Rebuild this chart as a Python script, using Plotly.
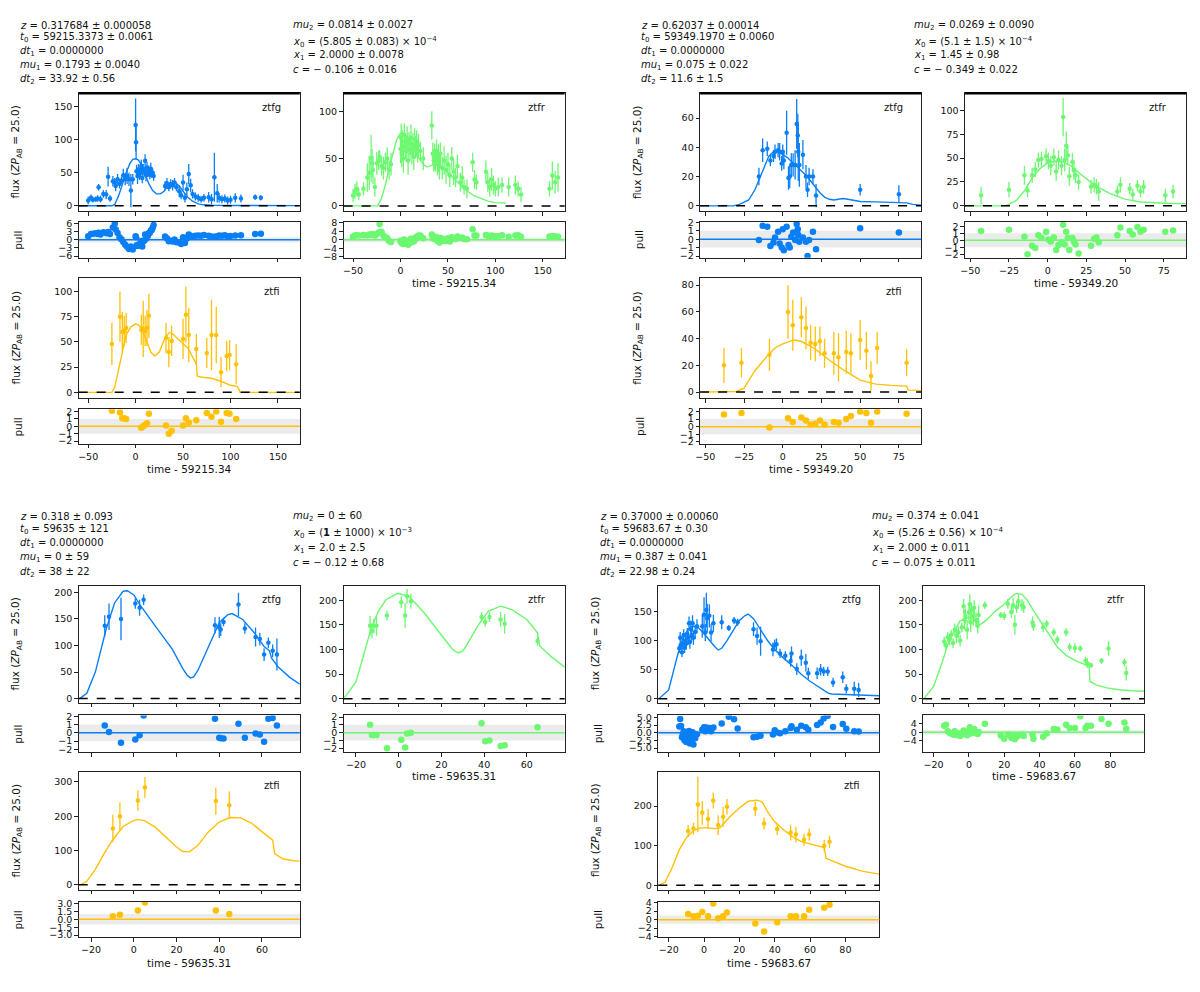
import plotly.graph_objects as go

W, H = 1200, 992

# ---------------- panel 1 : t0 = 59215.34 ----------------
P1_LEFT = ["<i>z</i> = 0.317684 ± 0.000058", "<i>t</i><sub>0</sub> = 59215.3373 ± 0.0061",
           "<i>dt</i><sub>1</sub> = 0.0000000", "<i>mu</i><sub>1</sub> = 0.1793 ± 0.0040",
           "<i>dt</i><sub>2</sub> = 33.92 ± 0.56"]
P1_RIGHT = ["<i>mu</i><sub>2</sub> = 0.0814 ± 0.0027", "<i>x</i><sub>0</sub> = (5.805 ± 0.083) × 10<sup>−4</sup>",
            "<i>x</i><sub>1</sub> = 2.0000 ± 0.0078", "<i>c</i> = − 0.106 ± 0.016"]
P1_TIME = "time - 59215.34"

P1_G_T = [-50, -47, -45, -42, -40, -39, -37, -34, -31, -29, -27, -24, -22, -21, -19, -17, -15, -13, -11, -9,
          -7, -5, -3, 0, 0.5, 1, 2, 3, 4, 5, 6, 7, 8, 9, 10, 11, 12, 13, 14, 15,
          16, 17, 18, 19, 31, 33, 35, 37, 39, 41, 43, 46, 48, 50, 52, 54, 56, 58, 60, 63,
          66, 69, 72, 77, 80, 83, 86, 88, 91, 94, 97, 100, 105, 111, 126, 132]
P1_G_FLUX = [8, 12, 9, 10, 11, 28, 10, 18, 17, 44, 11, 37, 35, 30, 40, 33, 38, 46, 40, 45,
             40, 23, 40, 122, 96, 52, 45, 55, 48, 50, 60, 42, 55, 52, 68, 46, 58, 50, 53, 47,
             56, 49, 50, 45, 30, 34, 28, 33, 31, 35, 28, 22, 16, 35, 12, 25, 48, 31, 18, 14,
             12, 10, 12, 13, 10, 43, 19, 12, 10, 11, 8, 9, 12, 11, 13, 12]
P1_G_ERR = [6, 5, 4, 4, 5, 5, 5, 6, 7, 15, 5, 8, 7, 8, 8, 7, 6, 10, 9, 12,
            10, 25, 8, 40, 25, 10, 12, 8, 9, 7, 10, 8, 8, 7, 10, 9, 8, 7, 8, 7,
            9, 7, 6, 7, 7, 8, 6, 7, 8, 7, 6, 9, 6, 12, 7, 10, 15, 10, 7, 6,
            6, 5, 6, 8, 8, 37, 14, 7, 6, 6, 6, 6, 7, 6, 4, 4]
P1_G_PULL = [1.3, 2.2, 2.3, 2.4, 2.2, 2.6, 2.0, 2.8, 2.4, 2.9, 2.2, 4.6, 6.0, 3.8, 2.5, 1.0, 0.2, -0.8, -1.8, -2.6,
             -3.4, -2.5, -3.6, 1.3, 1.0, -2.0, -2.3, -1.8, -1.5, -2.0, -0.4, -2.5, -0.6, -0.2, 2.0, 0.4, 1.8, 1.5, 2.5, 2.6,
             3.5, 3.6, 4.5, 5.5, 1.2, 0.6, -0.5, -0.3, -0.6, 0.1, -0.9, -1.0, -1.5, 1.0, -1.2, 0.5, 2.0, 1.4, 1.2, 1.5,
             1.6, 1.5, 1.8, 1.5, 1.2, 1.1, 1.3, 1.6, 1.5, 1.7, 1.2, 1.4, 1.6, 1.7, 2.2, 2.3]
P1_G_MODEL_T = [-60, -25, -22, -18, -14, -10, -6, -3, 0, 3, 6, 10, 14, 18, 22, 26, 30, 34, 38, 42,
                46, 50, 55, 60, 66, 72, 80, 100, 173]
P1_G_MODEL_F = [0, 0, 2, 15, 32, 50, 64, 70, 71, 69, 62, 48, 33, 23, 18, 18, 22, 30, 35, 35,
                30, 22, 13, 7, 3, 1.5, 0.8, 0.5, 0.3]

P1_R_T = [-50, -48, -46, -44, -39, -35, -33, -31, -30, -29, -27, -25, -23, -22, -20, -18, -16, -14, -12, -10,
          0, 0.7, 1.3, 2, 3, 4, 5, 6, 7, 8, 9, 10, 11, 12, 13, 14, 15, 16, 17, 18,
          19, 21, 24, 33, 34, 35, 36, 37, 38, 39, 40, 41, 42, 44, 46, 48, 50, 52, 54, 56,
          58, 60, 63, 65, 67, 70, 76, 78, 80, 90, 92, 94, 96, 98, 100, 103, 107, 114, 121, 124,
          127, 157, 160, 163, 166]
P1_R_FLUX = [11, 15, 18, 12, 18, 30, 35, 50, 45, 38, 20, 45, 48, 52, 42, 40, 46, 50, 38, 44,
             60, 72, 55, 68, 50, 75, 62, 58, 70, 48, 66, 60, 72, 56, 65, 52, 70, 62, 66, 58,
             64, 58, 50, 85, 55, 48, 52, 46, 58, 44, 50, 42, 55, 40, 48, 38, 44, 32, 50, 36,
             30, 42, 25, 30, 20, 18, 46, 28, 25, 36, 25, 20, 28, 22, 18, 20, 22, 20, 22, 18,
             12, 18, 32, 25, 30]
P1_R_ERR = [7, 8, 8, 6, 7, 15, 18, 25, 15, 15, 10, 12, 10, 7, 10, 12, 10, 12, 10, 12,
            15, 15, 14, 12, 15, 12, 12, 12, 14, 15, 12, 12, 14, 12, 12, 14, 12, 12, 14, 12,
            12, 10, 12, 15, 12, 12, 14, 10, 12, 12, 15, 14, 12, 12, 15, 15, 12, 12, 12, 14,
            10, 12, 10, 12, 8, 10, 10, 10, 8, 12, 10, 10, 12, 10, 8, 10, 8, 10, 10, 8,
            8, 8, 15, 12, 15]
P1_R_PULL = [1.6, 2.0, 2.3, 2.0, 2.3, 2.2, 2.5, 2.4, 2.6, 2.5, 2.1, 2.8, 3.5, 7.5, 3.8, 2.0, 1.2, 0.8, -0.5, -1.0,
             -0.8, -0.3, -1.6, -0.5, -2.0, 0.2, -1.0, -1.5, -0.6, -2.3, -0.7, -1.4, 0.5, -1.0, -0.3, -0.8, 0.9, 0.5, 1.4, 1.2,
             2.0, 2.0, 0.8, 2.5, 1.0, 0.5, 1.5, 0.3, 1.2, -0.5, 0.2, -1.2, 1.0, -0.6, 0.4, -0.5, 0.8, -0.8, 1.2, 0.5,
             0.4, 1.6, 0.9, 1.1, 0.4, 0.3, 5.0, 2.0, 2.1, 2.3, 2.0, 1.6, 2.0, 1.8, 1.7, 1.8, 2.2, 1.5, 2.0, 2.2,
             1.5, 1.6, 1.8, 1.7, 1.5]
P1_R_MODEL_T = [-60, -24, -20, -16, -12, -8, -4, 0, 4, 8, 12, 16, 21, 25, 28, 33, 38, 43, 49, 56,
                63, 70, 77, 85, 92, 100, 111]
P1_R_MODEL_F = [0, 0, 8, 22, 40, 56, 70, 77, 76, 72, 64, 56, 48, 43, 41, 43, 45, 41, 36, 29,
                22, 16, 11, 7.5, 5, 3.5, 3]

P1_I_T = [-25, -16.5, -14, -12, -10, 6, 8, 10, 12, 14, 32, 35, 38, 50, 53, 56, 64, 75, 80, 85, 90, 96, 99, 106]
P1_I_FLUX = [48, 75, 60, 61, 64, 62, 63, 61, 64, 76, 54, 40, 51, 53, 77, 57, 43, 39, 57, 57, 20, 36, 37, 28]
P1_I_ERR = [21, 25, 20, 15, 15, 15, 28, 15, 18, 22, 15, 15, 15, 20, 28, 27, 15, 15, 35, 28, 15, 15, 15, 20]
P1_I_PULL = [2.1, 1.85, 1.1, 1.1, 1.0, -0.2, 0.0, 0.2, 0.4, 1.7, 0.1, -1.0, -0.6, 0.1, 1.1, 0.5, 0.8, 1.8,
             1.3, 2.0, 0.6, 1.8, 1.7, 1.0]
P1_I_MODEL_T = [-60, -25, -22, -18, -14, -10, -5, 0, 3, 7, 12, 16, 20, 25, 30, 35, 38, 42, 48, 55,
                60, 64, 65, 70, 80, 90, 100, 107, 109, 110, 173]
P1_I_MODEL_F = [0, 0, 5, 22, 42, 57, 65, 68, 67, 62, 50, 40, 36, 40, 52, 59, 59, 55, 50, 44,
                35, 28, 16, 15, 14, 11, 7, 6, 3, 0, 0]

# ---------------- panel 2 : t0 = 59349.20 ----------------
P2_LEFT = ["<i>z</i> = 0.62037 ± 0.00014", "<i>t</i><sub>0</sub> = 59349.1970 ± 0.0060",
           "<i>dt</i><sub>1</sub> = 0.0000000", "<i>mu</i><sub>1</sub> = 0.075 ± 0.022",
           "<i>dt</i><sub>2</sub> = 11.6 ± 1.5"]
P2_RIGHT = ["<i>mu</i><sub>2</sub> = 0.0269 ± 0.0090", "<i>x</i><sub>0</sub> = (5.1 ± 1.5) × 10<sup>−4</sup>",
            "<i>x</i><sub>1</sub> = 1.45 ± 0.98", "<i>c</i> = − 0.349 ± 0.022"]
P2_TIME = "time - 59349.20"

P2_G_T = [-15.4, -13, -10, -8, -6, -5, -3, -2, -0.7, 0, 0.7, 2.5, 3.7, 4.5, 5.5, 6.7, 8, 9, 9.7, 10,
          10.7, 13, 15, 16, 17, 19.5, 21.5, 50, 75]
P2_G_FLUX = [20, 38, 39, 31, 34, 37, 38, 37, 29, 37, 31, 50, 19, 20, 28, 28, 28, 56, 48, 37,
             28, 35, 20, 11, 20, 20, 7, 11, 8]
P2_G_ERR = [6, 8, 5, 4, 4, 5, 5, 6, 5, 5, 6, 15, 8, 8, 8, 8, 10, 17, 15, 20,
            15, 10, 8, 5, 6, 5, 8, 4, 6]
P2_G_PULL = [-0.1, 1.6, 1.5, -0.8, -0.4, 0.2, 0.9, -0.5, -1.0, 1.2, -1.3, 1.5, -0.7, -1.0, 0.3, 0.8, -0.1, 1.8, 1.2, 0.5,
             -0.3, 0.2, -0.3, -2.0, -0.1, 0.9, -1.2, 1.3, 0.8]
P2_G_MODEL_T = [-53.4, -32, -28, -22, -18, -15, -12, -9, -6, -3, 0, 3, 6, 9, 12, 15, 18, 21, 24, 27,
                30, 33, 36, 39, 42, 46, 50, 60, 70, 80, 84, 89.4]
P2_G_MODEL_F = [0, 0, 1, 4, 11, 19, 27, 34, 37, 37, 35, 33, 30, 27, 24, 21, 17, 13, 9, 6,
                4.5, 4, 4.5, 5, 4.5, 3.5, 3, 2.7, 2.5, 2, 1, 0.5]

P2_R_T = [-43, -25, -15, -13, -10, -8, -6, -4, -1, 0.5, 2, 4, 5.5, 7, 9, 10, 11, 12, 13, 14,
          16, 17, 18, 20, 28, 30, 31.5, 33, 45, 47, 53, 55, 58, 60, 62, 76, 81]
P2_R_FLUX = [11, 17, 32, 16, 32, 38, 48, 49, 52, 47, 42, 51, 36, 48, 42, 93, 48, 63, 53, 31,
             46, 37, 32, 25, 20, 22, 20, 15, 15, 22, 18, 12, 21, 15, 20, 11, 15]
P2_R_ERR = [9, 8, 10, 7, 8, 8, 8, 8, 8, 9, 10, 9, 10, 10, 10, 20, 12, 15, 10, 10,
            9, 10, 8, 8, 7, 8, 8, 10, 6, 8, 6, 6, 6, 6, 7, 7, 7]
P2_R_PULL = [1.3, 1.5, 0.5, -2.0, -0.8, -1.1, 0.7, 0.3, 1.2, 0.1, -0.2, 0.4, -1.4, -0.7, -0.3, 2.2, -0.6, 1.2, 0.3, -1.4,
             0.3, -0.2, -0.6, -1.9, -0.8, 0.2, 0.4, -0.3, 0.7, 1.8, 1.3, 0.8, 1.9, 1.2, 1.5, 1.2, 1.4]
P2_R_MODEL_T = [-53.4, -27, -20, -15, -10, -5, 0, 5, 10, 15, 20, 25, 30, 40, 50, 60, 70, 80, 89.4]
P2_R_MODEL_F = [0, 0, 6, 16, 29, 39, 45, 47, 46, 42, 35, 28, 22, 13, 7, 4, 3, 2.5, 2.3]

P2_I_T = [-38, -26.7, -8.6, 3.4, 6.5, 12, 15, 18, 21, 24, 27, 33, 36, 41, 44, 50, 54, 57, 61, 80]
P2_I_FLUX = [20, 22, 28, 60, 50, 56, 48, 37, 36, 38, 29, 29, 26, 30, 29, 39, 31, 12, 33, 22]
P2_I_ERR = [13, 11, 12, 20, 19, 15, 16, 13, 13, 11, 11, 16, 18, 16, 15, 15, 14, 11, 12, 10]
P2_I_PULL = [1.6, 1.8, -0.1, 1.1, 0.6, 1.2, 0.8, 0.3, 0.4, 0.8, 0.3, 0.6, 0.5, 1.0, 1.4, 2.0, 1.8, 0.5, 2.0, 1.7]
P2_I_MODEL_T = [-53.4, -30, -25, -18, -10, -5, 0, 7, 12, 20, 30, 40, 50, 60, 70, 80, 81, 89.4]
P2_I_MODEL_F = [0, 0.5, 3, 16, 27, 33, 36, 39, 38, 33, 24, 16, 9, 6, 5, 4.5, 1.5, 1.3]

# ---------------- panel 3 : t0 = 59635.31 ----------------
P3_LEFT = ["<i>z</i> = 0.318 ± 0.093", "<i>t</i><sub>0</sub> = 59635 ± 121",
           "<i>dt</i><sub>1</sub> = 0.0000000", "<i>mu</i><sub>1</sub> = 0 ± 59",
           "<i>dt</i><sub>2</sub> = 38 ± 22"]
P3_RIGHT = ["<i>mu</i><sub>2</sub> = 0 ± 60", "<i>x</i><sub>0</sub> = (<b>1</b> ± 1000) × 10<sup>−3</sup>",
            "<i>x</i><sub>1</sub> = 2.0 ± 2.5", "<i>c</i> = − 0.12 ± 0.68"]
P3_TIME = "time - 59635.31"

P3_G_T = [-13.6, -11.6, -6, 0.7, 2.7, 4.6, 38, 40, 40.7, 42, 49, 52, 57, 59, 61, 63, 65, 67]
P3_G_FLUX = [137, 154, 150, 179, 171, 186, 138, 134, 130, 144, 177, 132, 116, 112, 83, 105, 90, 83]
P3_G_ERR = [20, 25, 40, 10, 15, 10, 15, 20, 12, 8, 22, 10, 18, 12, 12, 10, 12, 30]
P3_G_PULL = [0.9, 0.1, -1.2, -0.8, -0.3, 2.1, 1.7, -0.6, -0.65, -0.7, 1.1, -0.6, -0.1, -0.2, -1.1, 1.7, 1.8, 0.9]
P3_G_MODEL_T = [-25.8, -25, -22, -18, -13, -9, -5, -3, 0, 3, 10, 18, 23, 25, 26.5, 28, 30, 35, 40, 44,
                46, 51, 57, 61, 63.5, 64.5, 67.5, 73, 77.7]
P3_G_MODEL_F = [0, 1, 10, 50, 130, 180, 202, 203, 195, 176, 137, 93, 56, 44, 39, 41, 53, 99, 143, 158,
                160, 149, 121, 98, 90, 76, 60, 40, 27]

P3_R_T = [-13.4, -12.5, -11.6, -10.4, -5.5, 1.2, 3, 3.9, 5.7, 38.8, 40.5, 42.5, 47.7, 49.6, 65]
P3_R_FLUX = [148, 138, 148, 148, 169, 196, 169, 208, 198, 166, 156, 166, 161, 152, 117]
P3_R_ERR = [20, 15, 15, 20, 10, 12, 25, 15, 15, 10, 10, 10, 15, 20, 10]
P3_R_PULL = [1.0, -0.3, -0.3, -0.3, -2.0, -0.9, -1.9, -0.1, 0.0, 1.2, -1.1, -1.0, -1.7, -1.6, 0.7]
P3_R_MODEL_T = [-25.8, -25.7, -20, -15.5, -13, -9.5, -6, -0.5, 4.8, 12, 19, 24.5, 26.5, 28, 30, 31.6, 37, 42,
                47.7, 53, 60, 65, 66, 71, 77.7]
P3_R_MODEL_F = [0, 0, 34, 100, 141, 178, 201, 214, 208, 174, 134, 104, 96, 93, 97, 107, 148, 178,
                188, 181, 161, 134, 107, 87, 64]

P3_I_T = [-9.8, -6.5, 1.9, 5.2, 38.4, 44.7]
P3_I_FLUX = [164, 200, 246, 284, 244, 232]
P3_I_ERR = [40, 40, 30, 30, 40, 40]
P3_I_PULL = [0.6, 0.9, 1.7, 3.2, 1.7, 1.0]
P3_I_MODEL_T = [-25.8, -25, -22, -18, -14, -10, -5, 0, 2, 5, 10, 15, 20, 23, 26, 30, 35, 40, 45, 50,
                55, 60, 65, 66, 70, 75, 77.7]
P3_I_MODEL_F = [0, 0, 10, 45, 90, 130, 170, 188, 190, 187, 168, 140, 110, 97, 96, 115, 155, 183, 196, 195,
                180, 155, 130, 90, 75, 70, 69]

# ---------------- panel 4 : t0 = 59683.67 ----------------
P4_LEFT = ["<i>z</i> = 0.37000 ± 0.00060", "<i>t</i><sub>0</sub> = 59683.67 ± 0.30",
           "<i>dt</i><sub>1</sub> = 0.0000000", "<i>mu</i><sub>1</sub> = 0.387 ± 0.041",
           "<i>dt</i><sub>2</sub> = 22.98 ± 0.24"]
P4_RIGHT = ["<i>mu</i><sub>2</sub> = 0.374 ± 0.041", "<i>x</i><sub>0</sub> = (5.26 ± 0.56) × 10<sup>−4</sup>",
            "<i>x</i><sub>1</sub> = 2.000 ± 0.011", "<i>c</i> = − 0.075 ± 0.011"]
P4_TIME = "time - 59683.67"

P4_G_T = [-14, -13.5, -13, -12.5, -12, -11.5, -11, -10.5, -10, -9.5, -9, -8.5, -8, -7.5, -7, -6.5, -6, -5, -4,
          -1, 0, 0.7, 1.3, 1.8, 3, 4, 5.3, 10, 14, 17, 19, 28, 30, 32, 39, 40, 41, 43, 46, 49, 49.5,
          52.5, 55, 57.6, 59, 64, 66, 67.7, 70, 73, 78.5, 80.5, 85, 87.5]
P4_G_FLUX = [87, 105, 92, 80, 95, 110, 88, 100, 95, 112, 105, 130, 98, 120, 110, 130, 105, 115, 125,
             125, 145, 114, 153, 139, 143, 114, 130, 132, 122, 135, 132, 120, 108, 99, 85, 92, 94, 78, 74, 65, 78,
             51, 71, 62, 44, 44, 50, 47, 47, 28, 37, 17, 17, 15]
P4_G_ERR = [8, 10, 8, 8, 10, 10, 9, 12, 10, 10, 12, 12, 12, 15, 10, 14, 12, 12, 12,
            20, 30, 15, 30, 25, 20, 15, 15, 12, 5, 6, 6, 12, 15, 25, 12, 10, 10, 8, 8, 10, 12,
            10, 14, 15, 10, 10, 10, 8, 8, 8, 10, 8, 12, 12]
P4_G_PULL = [2.0, 4.5, 2.2, -1.5, -0.5, 0.5, -2.5, -1.0, -3.0, -0.5, -2.0, 0.6, -3.5, -1.2, -2.8, 0.2, -3.8, -1.8, -0.5,
             1.0, 1.8, 0.5, 1.7, 0.8, 1.5, 0.5, 1.7, 3.0, 5.2, 4.4, 1.4, -1.5, -1.3, -1.0, -0.6, 0.8, 0.2, -0.2, 0.5, 1.5, 2.1,
             1.0, 2.3, 1.8, 1.0, 2.5, 3.3, 4.6, 5.5, 1.9, 2.8, 1.3, 0.5, 0.4]
P4_G_MODEL_T = [-25.9, -25.5, -20, -15, -12, -10, -8, -6, -3, 0, 3, 6, 8, 10, 13, 17, 20, 23, 25, 28,
                30, 33, 36, 40, 45, 50, 55, 60, 65, 68, 70, 72, 80, 90, 99.2]
P4_G_MODEL_F = [0, 0, 15, 75, 105, 115, 123, 125, 122, 112, 100, 90, 84, 87, 100, 120, 135, 143, 146, 138,
                128, 115, 100, 85, 70, 57, 42, 30, 20, 15, 10, 8, 7, 6, 5]

P4_R_T = [-14, -13, -12, -11, -10, -9, -8, -7, -6, -5, -4, -3, -2.5, -2, -1, 0, 0.5, 1, 1.5, 2.5,
          3, 4, 5, 5.5, 9, 18, 20, 22, 24, 25, 26, 27, 28, 30, 31, 36, 36.5, 42, 44, 48, 50,
          55, 57, 60, 63, 66, 67, 69, 75, 79, 88, 89]
P4_R_FLUX = [116, 108, 125, 120, 130, 113, 140, 128, 135, 118, 145, 188, 160, 168, 140, 175, 192, 155, 180, 168,
             185, 160, 148, 170, 190, 170, 168, 193, 176, 190, 150, 186, 198, 190, 186, 155, 148, 145, 152, 135, 120,
             135, 105, 103, 102, 77, 72, 68, 77, 102, 74, 52]
P4_R_ERR = [10, 8, 10, 12, 10, 10, 12, 15, 12, 12, 10, 15, 20, 15, 20, 20, 20, 20, 15, 20,
            15, 15, 15, 20, 8, 6, 8, 10, 12, 15, 20, 12, 15, 12, 12, 12, 10, 10, 8, 8, 8,
            8, 8, 10, 6, 8, 10, 5, 6, 15, 8, 15]
P4_R_PULL = [3.0, 3.5, 0.5, -0.2, -0.5, -1.0, 0.5, -1.3, -0.5, -1.7, -0.3, 0.8, -0.8, 0.3, -1.4, 0.5, 2.3, -0.6, 1.0, 0.2,
             1.5, -0.3, -0.8, 0.1, 4.0, -1.5, -3.0, -1.0, -2.5, -1.5, -3.2, -2.0, -1.5, -1.0, -1.7, -1.0, -3.0, -2.0, -0.5,
             1.5, 1.3, 3.5, 2.0, 2.0, 7.5, 2.0, 3.1, 3.1, 6.2, 4.0, 4.5, 1.7]
P4_R_MODEL_T = [-25.9, -25.5, -20, -15, -12, -8, -5, -2, 0, 3, 5, 7, 10, 15, 20, 25, 27, 30, 33, 36,
                40, 45, 50, 55, 60, 65, 68, 68.5, 72, 78, 85, 92, 99.2]
P4_R_MODEL_F = [0, 0, 25, 75, 110, 140, 158, 163, 165, 160, 150, 152, 160, 178, 192, 210, 214, 212, 200, 182,
                160, 130, 105, 88, 78, 70, 65, 35, 28, 22, 18, 16, 15]

P4_I_T = [-9, -6, -3.5, -1, 2.3, 5.2, 8, 10.8, 13, 29, 34, 41.4, 49, 52, 56.6, 59.5, 68, 71]
P4_I_FLUX = [137, 143, 204, 183, 167, 214, 152, 173, 198, 193, 156, 142, 133, 128, 115, 128, 100, 110]
P4_I_ERR = [15, 15, 70, 30, 25, 20, 25, 25, 20, 18, 15, 15, 20, 20, 15, 15, 15, 15]
P4_I_PULL = [1.3, 0.8, 0.9, 1.8, 0.8, 3.8, 0.3, 0.8, 1.7, -0.9, -2.8, -0.6, 0.8, 0.8, 0.8, 2.3, 2.8, 3.5]
P4_I_MODEL_T = [-25.9, -25, -22, -18, -14, -10, -6, -2, 2, 6, 9, 12, 15, 20, 25, 30, 33, 36, 40, 45,
                50, 55, 60, 65, 68, 69, 75, 80, 90, 99.2]
P4_I_MODEL_F = [0, 1, 8, 45, 90, 120, 138, 145, 145, 143, 145, 160, 175, 195, 212, 215, 210, 185, 160, 140,
                123, 110, 104, 97, 95, 68, 58, 48, 35, 28]

COLORS = {"ztfg": "#0a7ff5", "ztfr": "#6cf870", "ztfi": "#ffc107"}
FONT = "DejaVu Sans"

# layout geometry (pixels) for the top and bottom halves
TOP = dict(hl=[21, 33, 46.7, 60.7, 75], hr=[21, 37, 51, 65], r1=(89, 208), p1=(219, 255), t1=281,
           r2=(275, 397), p2=(408, 443), t2=468, thick=True)
BOT = dict(hl=[516, 529.3, 543.7, 557.7, 572.3], hr=[516, 533.3, 548.3, 562.3], r1=(586, 704), p1=(717, 754),
           t1=778, r2=(774, 893), p2=(905, 941), t2=967, thick=False)
COL1, COL2 = (74, 296), (340, 562)

QUADS = [
    dict(ox=0, geo=TOP, left=P1_LEFT, right=P1_RIGHT, tlabel=P1_TIME, xr=[-60, 173], xt=[-50, 0, 50, 100, 150],
         bands=[("ztfg", P1_G_T, P1_G_FLUX, P1_G_ERR, P1_G_PULL, P1_G_MODEL_T, P1_G_MODEL_F,
                 [-8, 170], [0, 50, 100, 150], [-6.6, 6.6], [-6, -3, 0, 3, 6], None),
                ("ztfr", P1_R_T, P1_R_FLUX, P1_R_ERR, P1_R_PULL, P1_R_MODEL_T, P1_R_MODEL_F,
                 [-5.5, 119], [0, 50, 100], [-8.4, 8.4], [-8, -4, 0, 4, 8], None),
                ("ztfi", P1_I_T, P1_I_FLUX, P1_I_ERR, P1_I_PULL, P1_I_MODEL_T, P1_I_MODEL_F,
                 [-6, 114], [0, 25, 50, 75, 100], [-2.4, 2.3], [-2, -1, 0, 1, 2], None)]),
    dict(ox=624, geo=TOP, left=P2_LEFT, right=P2_RIGHT, tlabel=P2_TIME, xr=[-53.4, 89.4],
         xt=[-50, -25, 0, 25, 50, 75],
         bands=[("ztfg", P2_G_T, P2_G_FLUX, P2_G_ERR, P2_G_PULL, P2_G_MODEL_T, P2_G_MODEL_F,
                 [-3.6, 77], [0, 20, 40, 60], [-2.2, 2.05], [-2, -1, 0, 1, 2], None),
                ("ztfr", P2_R_T, P2_R_FLUX, P2_R_ERR, P2_R_PULL, P2_R_MODEL_T, P2_R_MODEL_F,
                 [-5.5, 118], [0, 25, 50, 75, 100], [-2.5, 2.6], [-2, -1, 0, 1, 2], None),
                ("ztfi", P2_I_T, P2_I_FLUX, P2_I_ERR, P2_I_PULL, P2_I_MODEL_T, P2_I_MODEL_F,
                 [-4.7, 85.7], [0, 20, 40, 60, 80], [-2.3, 2.3], [-2, -1, 0, 1, 2], None)]),
    dict(ox=0, geo=BOT, left=P3_LEFT, right=P3_RIGHT, tlabel=P3_TIME, xr=[-25.8, 77.7], xt=[-20, 0, 20, 40, 60],
         bands=[("ztfg", P3_G_T, P3_G_FLUX, P3_G_ERR, P3_G_PULL, P3_G_MODEL_T, P3_G_MODEL_F,
                 [-7.5, 212.5], [0, 50, 100, 150, 200], [-2.35, 2.1], [-2, -1, 0, 1, 2], None),
                ("ztfr", P3_R_T, P3_R_FLUX, P3_R_ERR, P3_R_PULL, P3_R_MODEL_T, P3_R_MODEL_F,
                 [-8, 229.6], [0, 50, 100, 150, 200], [-2.5, 2.2], [-2, -1, 0, 1, 2], None),
                ("ztfi", P3_I_T, P3_I_FLUX, P3_I_ERR, P3_I_PULL, P3_I_MODEL_T, P3_I_MODEL_F,
                 [-15, 329], [0, 100, 200, 300], [-3.45, 3.35], [-3, -1.5, 0, 1.5, 3], ".1f")]),
    dict(ox=582, geo=BOT, left=P4_LEFT, right=P4_RIGHT, tlabel=P4_TIME, xr=[-25.9, 99.2],
         xt=[-20, 0, 20, 40, 60, 80],
         bands=[("ztfg", P4_G_T, P4_G_FLUX, P4_G_ERR, P4_G_PULL, P4_G_MODEL_T, P4_G_MODEL_F,
                 [-6.8, 195], [0, 50, 100, 150], [-6.3, 5.6], [-5, -2.5, 0, 2.5, 5], ".1f"),
                ("ztfr", P4_R_T, P4_R_FLUX, P4_R_ERR, P4_R_PULL, P4_R_MODEL_T, P4_R_MODEL_F,
                 [-8, 229.6], [0, 50, 100, 150, 200], [-9.2, 7.8], [-4, 0, 4], None),
                ("ztfi", P4_I_T, P4_I_FLUX, P4_I_ERR, P4_I_PULL, P4_I_MODEL_T, P4_I_MODEL_F,
                 [-11.7, 286], [0, 100, 200], [-4.2, 4.2], [-4, -2, 0, 2, 4], None)]),
]

AX = dict(showline=True, mirror=True, linecolor="#222", linewidth=1, ticks="outside", ticklen=3.5,
          tickwidth=1, tickcolor="#222", showgrid=False, zeroline=False, fixedrange=True,
          tickfont=dict(family=FONT, size=9.5, color="#111"))

fig = go.Figure()
layout = {}
shapes, annotations = [], []
counter = [0]


def new_axes(x0, x1, y0, y1, xr, xt, yr, yt, yfmt=None, xlabels=False):
    counter[0] += 1
    n = counter[0]
    s = "" if n == 1 else str(n)
    layout["xaxis" + s] = dict(AX, domain=[x0 / W, x1 / W], anchor="y" + s, range=xr, tickvals=xt,
                               showticklabels=xlabels)
    layout["yaxis" + s] = dict(AX, domain=[1 - y1 / H, 1 - y0 / H], anchor="x" + s, range=yr, tickvals=yt,
                               tickformat=yfmt)
    return "x" + s, "y" + s


def text(x, y, s, size=10, angle=0, anchor="left"):
    annotations.append(dict(x=x / W, y=1 - y / H, xref="paper", yref="paper", text=s, showarrow=False,
                            xanchor=anchor, yanchor="middle", textangle=angle, borderpad=0,
                            font=dict(family=FONT, size=size, color="#111")))


for q in QUADS:
    ox, g = q["ox"], q["geo"]
    for txt, y in zip(q["left"], g["hl"]):
        text(14 + ox, y, txt)
    for txt, y in zip(q["right"], g["hr"]):
        text(288 + ox, y, txt)

    slots = [(COL1, g["r1"], g["p1"], False), (COL2, g["r1"], g["p1"], True), (COL1, g["r2"], g["p2"], True)]
    tys = [None, g["t1"], g["t2"]]
    for (band, t, f, e, pull, mt, mf, fr, ft, pr, pt, pfmt), (col, rf, rp, lab), ty in zip(q["bands"], slots, tys):
        c = COLORS[band]
        x0, x1 = col[0] + ox, col[1] + ox

        # flux panel
        xa, ya = new_axes(x0, x1, rf[0], rf[1], q["xr"], q["xt"], fr, ft)
        shapes.append(dict(type="line", xref=xa + " domain", x0=0, x1=1, yref=ya, y0=0, y1=0,
                           line=dict(color="black", width=1.5, dash="dash")))
        fig.add_trace(go.Scatter(x=t, y=f, mode="markers", xaxis=xa, yaxis=ya,
                                 marker=dict(color=c, size=4.5),
                                 error_y=dict(type="data", array=e, width=0, thickness=1.3, color=c)))
        fig.add_trace(go.Scatter(x=mt, y=mf, mode="lines", xaxis=xa, yaxis=ya, line=dict(color=c, width=1.4)))
        text(x0 + 0.873 * (x1 - x0), rf[0] + 14, band, size=10, anchor="center")
        if g["thick"] and rf == g["r1"]:
            shapes.append(dict(type="line", xref="paper", yref="paper", x0=x0 / W, x1=x1 / W,
                               y0=1 - rf[0] / H, y1=1 - rf[0] / H, line=dict(color="black", width=2.5)))
        if col == COL1:
            text(11.5 + ox, (rf[0] + rf[1]) / 2, "flux (<i>ZP</i><sub>AB</sub> = 25.0)",
                 size=10.5, angle=-90, anchor="center")

        # pull panel
        xb, yb = new_axes(x0, x1, rp[0], rp[1], q["xr"], q["xt"], pr, pt, pfmt, xlabels=lab)
        shapes.append(dict(type="rect", xref=xb + " domain", x0=0, x1=1, yref=yb, y0=-1, y1=1,
                           fillcolor="#ebebeb", line=dict(width=0), layer="below"))
        shapes.append(dict(type="line", xref=xb + " domain", x0=0, x1=1, yref=yb, y0=0, y1=0,
                           line=dict(color=c, width=1.5)))
        fig.add_trace(go.Scatter(x=t, y=pull, mode="markers", xaxis=xb, yaxis=yb,
                                 marker=dict(color=c, size=6.5)))
        if col == COL1:
            text(13 + ox, (rp[0] + rp[1]) / 2, "pull", size=10.5, angle=-90, anchor="center")
        if ty is not None:
            text((x0 + x1) / 2, ty, q["tlabel"], size=10.5, anchor="center")

fig.update_layout(layout)
fig.update_layout(width=W, height=H, margin=dict(l=0, r=0, t=0, b=0), showlegend=False,
                  paper_bgcolor="white", plot_bgcolor="white", shapes=shapes, annotations=annotations)
fig.write_html("out.html", config={"displayModeBar": False},
               post_script="document.body.style.margin = '0';")
